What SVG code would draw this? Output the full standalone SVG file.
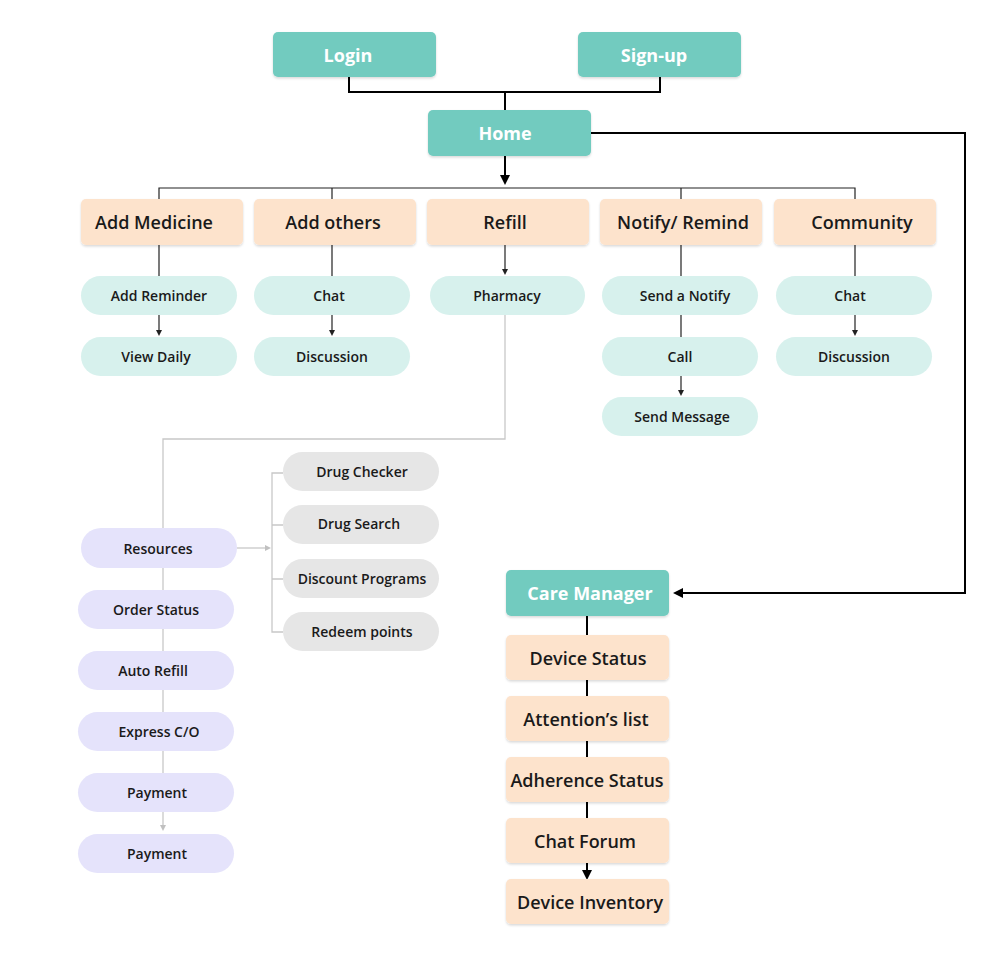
<svg xmlns="http://www.w3.org/2000/svg" width="1000" height="970" viewBox="0 0 1000 970">
<style>
text{font-family:"Open Sans","Noto Sans","Liberation Sans",sans-serif;text-anchor:middle;dominant-baseline:central}
.teal rect{fill:#72cbbf}
.teal text{fill:#fff;font-size:18px;font-weight:700}
.cat rect{fill:#fde3cc}
.cat text{fill:#1a1a1a;font-size:18px;font-weight:600}
.pill text{fill:#1a1a1a;font-size:14px;font-weight:600}
.lt rect{fill:#d7f1ed}
.lv rect{fill:#e5e3fb}
.gr rect{fill:#e6e6e6}
.blk{stroke:#000;stroke-width:2;fill:none}
.thin{stroke:#222;stroke-width:1.2;fill:none}
.gry{stroke:#c8c8c8;stroke-width:1.3;fill:none}
</style>
<defs>
<filter id="sh" x="-5%" y="-10%" width="110%" height="130%"><feDropShadow dx="0" dy="1.5" stdDeviation="1" flood-color="#000" flood-opacity="0.15"/></filter>
<marker id="ab" markerWidth="10" markerHeight="10" refX="5" refY="5" orient="auto" markerUnits="userSpaceOnUse"><path d="M0,0 L10,5 L0,10 z" fill="#000"/></marker>
<marker id="as" markerWidth="6" markerHeight="6" refX="3" refY="3" orient="auto" markerUnits="userSpaceOnUse"><path d="M0,0 L6,3 L0,6 z" fill="#222"/></marker>
<marker id="ag" markerWidth="6" markerHeight="6" refX="3" refY="3" orient="auto" markerUnits="userSpaceOnUse"><path d="M0,0 L6,3 L0,6 z" fill="#c0c0c0"/></marker>
</defs>
<rect width="1000" height="970" fill="#fff"/>
<g id="connectors">
<path class="blk" d="M349,77 V92 H660 V77 M505,92 V110"/>
<path class="blk" d="M505,156 V180" marker-end="url(#ab)"/>
<path class="blk" d="M591,133 H965 V593 H678" marker-end="url(#ab)"/>
<path class="thin" d="M159,199 V188 H855 V199 M332,188 V199 M681,188 V199"/>
<path class="thin" d="M159,245 V276 M332,245 V276 M681,245 V276 M681,315 V337 M855,245 V276"/>
<path class="thin" d="M159,315 V333" marker-end="url(#as)"/>
<path class="thin" d="M332,315 V333" marker-end="url(#as)"/>
<path class="thin" d="M505,245 V272" marker-end="url(#as)"/>
<path class="thin" d="M681,376 V393" marker-end="url(#as)"/>
<path class="thin" d="M855,315 V333" marker-end="url(#as)"/>
<path class="gry" d="M505,315 V439 H163 V528 M163,568 V590 M163,629 V651 M163,690 V712 M163,751 V773"/>
<path class="gry" d="M163,812 V828" marker-end="url(#ag)"/>
<path class="gry" d="M237,548 H268" marker-end="url(#ag)"/>
<path class="gry" d="M283,473 H272 V632 H283 M272,525 H283 M272,579 H283"/>
<path class="blk" d="M587,616 V635 M587,680 V696 M587,741 V757 M587,802 V818"/>
<path class="blk" d="M587,863 V875" marker-end="url(#ab)"/>
</g>
<g id="login" class="teal"><rect x="273" y="32" width="163" height="45" rx="5" filter="url(#sh)"/><text x="348" y="55">Login</text></g>
<g id="signup" class="teal"><rect x="578" y="32" width="163" height="45" rx="5" filter="url(#sh)"/><text x="654" y="55">Sign-up</text></g>
<g id="home" class="teal"><rect x="428" y="110" width="163" height="46" rx="5" filter="url(#sh)"/><text x="505" y="133">Home</text></g>
<g id="add-medicine" class="cat"><rect x="81" y="199" width="162" height="46" rx="5" filter="url(#sh)"/><text x="154" y="222">Add Medicine</text></g>
<g id="add-others" class="cat"><rect x="254" y="199" width="162" height="46" rx="5" filter="url(#sh)"/><text x="333" y="222">Add others</text></g>
<g id="refill" class="cat"><rect x="427" y="199" width="162" height="46" rx="5" filter="url(#sh)"/><text x="505" y="222">Refill</text></g>
<g id="notify" class="cat"><rect x="600" y="199" width="162" height="46" rx="5" filter="url(#sh)"/><text x="683" y="222">Notify/ Remind</text></g>
<g id="community" class="cat"><rect x="774" y="199" width="162" height="46" rx="5" filter="url(#sh)"/><text x="862" y="222">Community</text></g>
<g id="add-reminder" class="pill lt"><rect x="81" y="276" width="156" height="39" rx="19.5"/><text x="159" y="295.5">Add Reminder</text></g>
<g id="view-daily" class="pill lt"><rect x="81" y="337" width="156" height="39" rx="19.5"/><text x="156" y="356.5">View Daily</text></g>
<g id="chat1" class="pill lt"><rect x="254" y="276" width="156" height="39" rx="19.5"/><text x="329" y="295.5">Chat</text></g>
<g id="discussion1" class="pill lt"><rect x="254" y="337" width="156" height="39" rx="19.5"/><text x="332" y="356.5">Discussion</text></g>
<g id="pharmacy" class="pill lt"><rect x="430" y="276" width="155" height="39" rx="19.5"/><text x="507" y="295.5">Pharmacy</text></g>
<g id="send-notify" class="pill lt"><rect x="602" y="276" width="156" height="39" rx="19.5"/><text x="685" y="295.5">Send a Notify</text></g>
<g id="call" class="pill lt"><rect x="602" y="337" width="156" height="39" rx="19.5"/><text x="680" y="356.5">Call</text></g>
<g id="send-message" class="pill lt"><rect x="602" y="397" width="156" height="39" rx="19.5"/><text x="682" y="416.5">Send Message</text></g>
<g id="chat2" class="pill lt"><rect x="776" y="276" width="156" height="39" rx="19.5"/><text x="850" y="295.5">Chat</text></g>
<g id="discussion2" class="pill lt"><rect x="776" y="337" width="156" height="39" rx="19.5"/><text x="854" y="356.5">Discussion</text></g>
<g id="resources" class="pill lv"><rect x="81" y="528" width="156" height="40" rx="20"/><text x="158" y="548">Resources</text></g>
<g id="order-status" class="pill lv"><rect x="78" y="590" width="156" height="39" rx="19.5"/><text x="156" y="609.5">Order Status</text></g>
<g id="auto-refill" class="pill lv"><rect x="78" y="651" width="156" height="39" rx="19.5"/><text x="153" y="670.5">Auto Refill</text></g>
<g id="express" class="pill lv"><rect x="78" y="712" width="156" height="39" rx="19.5"/><text x="159" y="731.5">Express C/O</text></g>
<g id="payment1" class="pill lv"><rect x="78" y="773" width="156" height="39" rx="19.5"/><text x="157" y="792.5">Payment</text></g>
<g id="payment2" class="pill lv"><rect x="78" y="834" width="156" height="39" rx="19.5"/><text x="157" y="853.5">Payment</text></g>
<g id="drug-checker" class="pill gr"><rect x="283" y="452" width="156" height="39" rx="19.5"/><text x="362" y="471.5">Drug Checker</text></g>
<g id="drug-search" class="pill gr"><rect x="283" y="505" width="156" height="39" rx="19.5"/><text x="359" y="523.5">Drug Search</text></g>
<g id="discount" class="pill gr"><rect x="283" y="559" width="156" height="39" rx="19.5"/><text x="362" y="578.5">Discount Programs</text></g>
<g id="redeem" class="pill gr"><rect x="283" y="612" width="156" height="39" rx="19.5"/><text x="362" y="631.5">Redeem points</text></g>
<g id="care-manager" class="teal"><rect x="506" y="570" width="163" height="46" rx="5" filter="url(#sh)"/><text x="590" y="593">Care Manager</text></g>
<g id="device-status" class="cat"><rect x="506" y="635" width="163" height="45" rx="5" filter="url(#sh)"/><text x="588" y="658">Device Status</text></g>
<g id="attention" class="cat"><rect x="506" y="696" width="163" height="45" rx="5" filter="url(#sh)"/><text x="586" y="719">Attention’s list</text></g>
<g id="adherence" class="cat"><rect x="506" y="757" width="163" height="45" rx="5" filter="url(#sh)"/><text x="587" y="780">Adherence Status</text></g>
<g id="chat-forum" class="cat"><rect x="506" y="818" width="163" height="45" rx="5" filter="url(#sh)"/><text x="585" y="841">Chat Forum</text></g>
<g id="device-inventory" class="cat"><rect x="506" y="879" width="163" height="45" rx="5" filter="url(#sh)"/><text x="590" y="902">Device Inventory</text></g>
</svg>
